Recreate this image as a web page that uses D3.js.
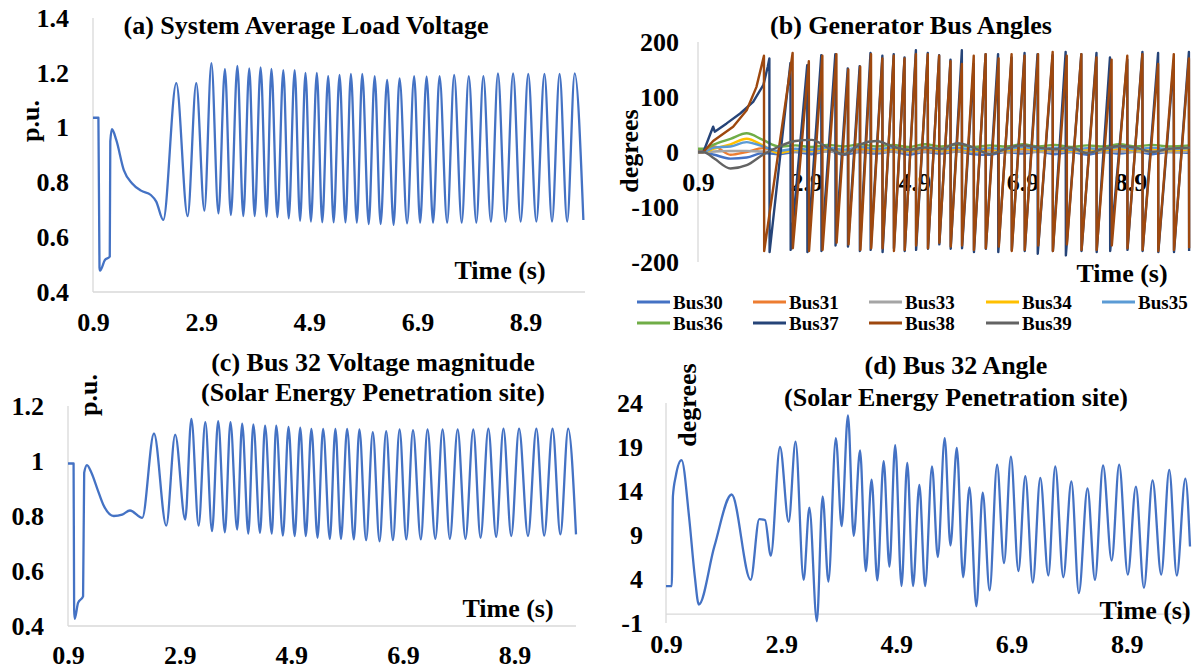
<!DOCTYPE html>
<html>
<head>
<meta charset="utf-8">
<script src="https://cdn.jsdelivr.net/npm/d3@7"></script>
<style>
  body { margin: 0; background: #fff; }
  text { font-family: "Liberation Serif", "Times New Roman", serif; font-weight: bold; fill: #000; }
</style>
</head>
<body>
<svg id="chart" width="1195" height="670"></svg>
<script>
// ---- data (time in s) ----
const timeTicks = [0.9, 2.9, 4.9, 6.9, 8.9];
const voltTicksA = [0.4, 0.6, 0.8, 1.0, 1.2, 1.4];
const angleTicksB = [-200, -100, 0, 100, 200];
const voltTicksC = [0.4, 0.6, 0.8, 1.0, 1.2];
const angleTicksD = [-1, 4, 9, 14, 19, 24];

// (a) system average load voltage, p.u.
const aTime = [0.9, 1.0, 1.02, 1.03, 1.12, 1.21, 1.22, 1.25, 1.33, 1.47, 1.62, 1.79, 1.97, 2.07, 2.20,
  2.44, 2.65, 2.81, 2.96, 3.09, 3.22, 3.34, 3.45, 3.57, 3.68, 3.79, 3.89, 4.00, 4.11, 4.20, 4.31, 4.42,
  4.52, 4.63, 4.73, 4.83, 4.93, 5.04, 5.14, 5.25, 5.35, 5.46, 5.57, 5.67, 5.78, 5.88, 6.00, 6.11, 6.22,
  6.34, 6.46, 6.57, 6.71, 6.84, 6.95, 7.07, 7.19, 7.31, 7.45, 7.58, 7.72, 7.85, 7.99, 8.12, 8.26, 8.39,
  8.53, 8.67, 8.81, 8.95, 9.10, 9.25, 9.39, 9.53, 9.67, 9.81, 9.97];
const aVolt = [1.036, 1.036, 0.49, 0.478, 0.517, 0.529, 0.95, 0.994, 0.955, 0.845, 0.797, 0.770, 0.754, 0.730, 0.663,
  1.162, 0.677, 1.162, 0.697, 1.235, 0.687, 1.213, 0.681, 1.225, 0.677, 1.216, 0.677, 1.220, 0.675, 1.214, 0.673, 1.210,
  0.669, 1.210, 0.660, 1.200, 0.657, 1.200, 0.654, 1.188, 0.654, 1.192, 0.654, 1.196, 0.653, 1.196, 0.648, 1.188, 0.648,
  1.174, 0.645, 1.180, 0.651, 1.188, 0.653, 1.186, 0.653, 1.188, 0.653, 1.192, 0.653, 1.188, 0.653, 1.188, 0.657, 1.198,
  0.657, 1.198, 0.657, 1.196, 0.657, 1.196, 0.657, 1.196, 0.657, 1.198, 0.663];

// (c) bus 32 voltage magnitude, p.u.
const cTime = [0.9, 1.0, 1.01, 1.02, 1.08, 1.17, 1.19, 1.24, 1.32, 1.43, 1.53, 1.72, 1.87, 2.01, 2.23,
  2.44, 2.66, 2.82, 3.00, 3.11, 3.24, 3.36, 3.48, 3.59, 3.71, 3.81, 3.93, 4.02, 4.13, 4.22, 4.34, 4.43,
  4.55, 4.63, 4.75, 4.85, 4.96, 5.06, 5.16, 5.26, 5.37, 5.47, 5.59, 5.69, 5.79, 5.90, 6.02, 6.12, 6.24,
  6.36, 6.48, 6.60, 6.72, 6.84, 6.96, 7.08, 7.22, 7.34, 7.48, 7.61, 7.74, 7.88, 8.02, 8.16, 8.29, 8.43,
  8.57, 8.70, 8.84, 8.98, 9.14, 9.29, 9.43, 9.58, 9.72, 9.86, 10.0];
const cVolt = [0.991, 0.991, 0.46, 0.426, 0.484, 0.508, 0.957, 0.985, 0.957, 0.896, 0.842, 0.80, 0.805, 0.82, 0.793,
  1.100, 0.765, 1.096, 0.787, 1.153, 0.765, 1.141, 0.745, 1.145, 0.741, 1.141, 0.751, 1.136, 0.736, 1.133, 0.739, 1.129,
  0.736, 1.129, 0.729, 1.124, 0.727, 1.121, 0.727, 1.117, 0.721, 1.117, 0.717, 1.117, 0.717, 1.117, 0.715, 1.115, 0.712,
  1.105, 0.708, 1.109, 0.712, 1.115, 0.715, 1.112, 0.715, 1.115, 0.717, 1.115, 0.717, 1.115, 0.717, 1.115, 0.721, 1.118,
  0.724, 1.118, 0.727, 1.118, 0.727, 1.118, 0.729, 1.118, 0.733, 1.118, 0.733];

// (d) bus 32 angle, degrees
const dTime = [0.9, 1.0, 1.02, 1.07, 1.17, 1.30, 1.40, 1.47, 1.74, 2.04, 2.37, 2.52, 2.62, 2.72, 2.88,
  3.03, 3.15, 3.29, 3.39, 3.52, 3.62, 3.72, 3.85, 3.95, 4.06, 4.16, 4.27, 4.37, 4.47, 4.57, 4.68, 4.78,
  4.88, 4.99, 5.09, 5.19, 5.30, 5.40, 5.52, 5.62, 5.74, 5.84, 5.95, 6.06, 6.17, 6.29, 6.40, 6.52, 6.65,
  6.77, 6.89, 7.02, 7.14, 7.27, 7.40, 7.54, 7.66, 7.80, 7.94, 8.07, 8.22, 8.35, 8.49, 8.64, 8.77, 8.92,
  9.06, 9.20, 9.35, 9.50, 9.64, 9.77, 9.92, 10.0];
const dAngle = [3.2, 3.2, 13.4, 15.7, 17.5, 11.1, 4.3, 1.1, 7.7, 13.6, 3.9, 10.8, 10.7, 6.65, 19.0,
  10.5, 19.6, 3.9, 12.1, -0.8, 13.4, 3.7, 20.0, 10.0, 22.6, 8.9, 18.6, 4.9, 15.3, 3.85, 17.4, 5.4,
  19.2, 3.2, 17.2, 3.2, 14.7, 3.2, 16.8, 6.5, 20.0, 7.8, 18.9, 4.2, 14.4, 0.9, 13.8, 2.7, 17.0,
  5.8, 17.9, 4.9, 15.7, 3.6, 15.5, 4.4, 16.8, 4.2, 15.1, 2.4, 14.3, 3.9, 16.9, 6.1, 17.0, 4.5,
  14.5, 3.0, 15.2, 4.5, 16.4, 4.4, 15.4, 7.7];

// (b) generator bus angles, degrees
const busNames = ['Bus30', 'Bus31', 'Bus33', 'Bus34', 'Bus35', 'Bus36', 'Bus37', 'Bus38', 'Bus39'];
const busColors = ['#4472C4', '#ED7D31', '#A5A5A5', '#FFC000', '#5B9BD5', '#70AD47', '#264478', '#9E480E', '#636363'];

const bTime = [0.9, 1.0, 1.2, 1.5, 1.8, 2.1, 2.4, 2.7, 3.0, 3.3, 3.6, 3.9, 4.2, 4.5, 4.8, 5.1,
  5.4, 5.7, 6.0, 6.3, 6.6, 6.9, 7.2, 7.5, 7.8, 8.1, 8.4, 8.7, 9.0, 9.3, 9.6, 10.0];
const bus30 = [0, 0, -5, -12, -10, -2, -4, 0, -4, 2, -5, 0, -3, 1, -5, 0, -3, 1, -4, -5, 0, -3, 1, -4, 0, -5, 0, -3, 1, -4, 0, -2];
const bus31 = [0, 0, 10, -5, 0, 7, 1, 4, 2, 5, 1, 4, 2, 5, 1, 4, 2, 5, 1, 3, 2, 5, 1, 4, 2, 3, 2, 5, 1, 4, 2, 3];
const bus33 = [0, 0, 1, 2, 2, 1, 0, 1, 0, 1, 0, 1, 0, 1, 0, 1, 0, 1, 0, 1, 0, 1, 0, 1, 0, 1, 0, 1, 0, 1, 0, 1];
const bus34 = [0, 0, 6, 14, 24, 12, -2, 4, 2, 6, 3, 7, 3, 6, 2, 7, 3, 6, 2, 5, 3, 7, 3, 6, 2, 5, 3, 7, 3, 6, 3, 5];
const bus35 = [0, 0, 8, 10, 18, 10, 2, 6, 4, 8, 4, 9, 5, 8, 4, 9, 5, 8, 4, 7, 5, 9, 5, 8, 4, 7, 5, 9, 5, 8, 5, 7];
const bus36 = [6, 6, 14, 24, 34, 22, 10, 12, 9, 13, 10, 14, 10, 13, 9, 14, 10, 13, 9, 12, 10, 14, 10, 13, 9, 12, 10, 14, 10, 13, 10, 12];
const bus39 = [0, 0, -12, -30, -24, -5, 10, 20, 22, 8, -4, 14, 20, 10, 4, 8, 6, 16, 8, -4, 6, 12, 8, 5, 8, -2, 6, 11, 8, 0, 6, 8];

// Bus37 / Bus38 slip poles: run-up, then wrap from top to bottom at each drop time
const bus37RampT = [0.9, 1.0, 1.12, 1.18, 1.21, 1.43, 1.68, 1.92, 2.11, 2.19, 2.22];
const bus37RampV = [0, 0, 31, 46, 37, 52, 70, 91, 122, 155, 170];
const bus37Drop = [2.22, 2.61, 2.92, 3.18, 3.44, 3.67, 3.89, 4.09, 4.31, 4.52, 4.72, 4.93, 5.15, 5.36, 5.57, 5.78,
  6.0, 6.22, 6.45, 6.7, 6.94, 7.18, 7.46, 7.70, 7.99, 8.27, 8.52, 8.84, 9.12, 9.41, 9.7, 9.98];
const bus37Top = [170, 162, 158, 176, 178, 152, 156, 180, 175, 178, 172, 185, 180, 176, 168, 185,
  160, 178, 178, 172, 180, 178, 176, 182, 178, 180, 172, 168, 182, 180, 165, 182];
const bus37Bottom = [-182, -178, -182, -180, -170, -172, -180, -178, -182, -175, -180, -178, -176, -168, -176, -175,
  -182, -176, -182, -178, -180, -185, -180, -188, -180, -182, -180, -178, -180, -182, -182, -180];

const bus38RampT = [0.9, 1.0, 1.18, 1.55, 1.8, 1.98, 2.12];
const bus38RampV = [0, 0, 20, 46, 76, 118, 175];
const bus38Drop = [2.12, 2.65, 2.95, 3.2, 3.46, 3.68, 3.9, 4.1, 4.31, 4.52, 4.72, 4.93, 5.15, 5.36, 5.57, 5.78,
  6.0, 6.22, 6.46, 6.7, 6.94, 7.19, 7.46, 7.72, 7.99, 8.27, 8.55, 8.84, 9.12, 9.41, 9.7, 9.98];
const bus38Top = [175, 180, 165, 175, 178, 150, 155, 178, 170, 175, 170, 178, 178, 175, 165, 160,
  175, 178, 170, 178, 175, 178, 182, 175, 178, 172, 168, 175, 178, 160, 178, 170];
const bus38Bottom = [-180, -175, -180, -178, -165, -168, -178, -175, -175, -180, -178, -170, -175, -165, -172, -170,
  -178, -175, -172, -180, -178, -170, -180, -168, -178, -178, -170, -175, -178, -180, -178, -175];

// ---- drawing ----
const T_RANGE = [0.9, 10.0];
const FONT_SIZE = 26;
const AXIS_COLOR = '#D9D9D9';
const LINE_BLUE = '#4472C4';

const svg = d3.select('#chart');

const zip = (ts, vs) => ts.map((t, i) => [t, vs[i]]);

function sawtooth(rampT, rampV, drops, tops, bottoms) {
  const pts = zip(rampT, rampV);
  drops.forEach((t, i) => {
    if (i > 0) pts.push([t, tops[i]]);
    pts.push([t + 0.004, bottoms[i]]);
  });
  return pts;
}

function drawFrame(p) {
  const x = d3.scaleLinear().domain(T_RANGE).range(p.xRange);
  const y = d3.scaleLinear().domain(p.yDomain).range(p.yRange);
  const g = svg.append('g');

  g.append('line')
    .attr('x1', p.xRange[0]).attr('x2', p.xRange[0])
    .attr('y1', p.yRange[1]).attr('y2', p.yRange[0])
    .attr('stroke', AXIS_COLOR).attr('stroke-width', 1.3);
  g.append('line')
    .attr('x1', p.xRange[0]).attr('x2', p.xRange[1])
    .attr('y1', y(p.crossAt)).attr('y2', y(p.crossAt))
    .attr('stroke', AXIS_COLOR).attr('stroke-width', 1.3);

  g.append('g')
    .attr('transform', `translate(${p.yLabelX},0)`)
    .call(d3.axisLeft(y).tickValues(p.yTicks).tickSize(0).tickPadding(0).tickFormat(d => String(+d.toFixed(1))))
    .call(a => a.select('.domain').remove())
    .attr('font-size', FONT_SIZE);

  g.append('g')
    .attr('transform', `translate(0,${p.xLabelY})`)
    .call(d3.axisBottom(x).tickValues(timeTicks).tickSize(0).tickFormat(d => d.toFixed(1)))
    .call(a => a.select('.domain').remove())
    .call(a => a.selectAll('text').attr('y', 0).attr('dy', '0.35em'))
    .attr('font-size', FONT_SIZE);

  p.title.forEach((line, i) => {
    g.append('text')
      .attr('x', p.titleX)
      .attr('y', p.titleY + i * p.titleGap)
      .attr('text-anchor', 'middle')
      .attr('dominant-baseline', 'central')
      .attr('font-size', FONT_SIZE)
      .text(line);
  });

  g.append('text')
    .attr('transform', `translate(${p.unitX},${p.unitY}) rotate(-90)`)
    .attr('text-anchor', 'middle')
    .attr('dominant-baseline', 'central')
    .attr('font-size', FONT_SIZE)
    .text(p.unit);

  g.append('text')
    .attr('x', p.timeX)
    .attr('y', p.timeY)
    .attr('text-anchor', 'middle')
    .attr('dominant-baseline', 'central')
    .attr('font-size', FONT_SIZE)
    .text('Time (s)');

  return { x, y, g };
}

function drawLine(frame, pts, color, curve, width) {
  const line = d3.line()
    .x(d => frame.x(d[0]))
    .y(d => frame.y(d[1]))
    .curve(curve);
  frame.g.append('path')
    .datum(pts)
    .attr('d', line)
    .attr('fill', 'none')
    .attr('stroke', color)
    .attr('stroke-width', width)
    .attr('stroke-linejoin', 'round');
}

// (a)
const fa = drawFrame({
  xRange: [93, 585], yDomain: [0.4, 1.4], yRange: [292, 18], yTicks: voltTicksA, crossAt: 0.4,
  yLabelX: 69, xLabelY: 322,
  title: ['(a) System Average Load Voltage'], titleX: 306, titleY: 25, titleGap: 0,
  unit: 'p.u.', unitX: 30, unitY: 121, timeX: 500, timeY: 270
});
drawLine(fa, zip(aTime, aVolt), LINE_BLUE, d3.curveMonotoneX, 2.3);

// (c)
const fc = drawFrame({
  xRange: [68, 576], yDomain: [0.4, 1.2], yRange: [626, 406], yTicks: voltTicksC, crossAt: 0.4,
  yLabelX: 44, xLabelY: 655,
  title: ['(c) Bus 32 Voltage magnitude', '(Solar Energy Penetration site)'], titleX: 373, titleY: 362, titleGap: 30,
  unit: 'p.u.', unitX: 88, unitY: 395, timeX: 508, timeY: 608
});
drawLine(fc, zip(cTime, cVolt), LINE_BLUE, d3.curveMonotoneX, 2.3);

// (d)
const fd = drawFrame({
  xRange: [666, 1190], yDomain: [-1, 24], yRange: [623, 403], yTicks: angleTicksD, crossAt: 0,
  yLabelX: 643, xLabelY: 644,
  title: ['(d) Bus 32 Angle', '(Solar Energy Penetration site)'], titleX: 956, titleY: 365, titleGap: 32,
  unit: 'degrees', unitX: 687, unitY: 405, timeX: 1145, timeY: 610
});
drawLine(fd, zip(dTime, dAngle), LINE_BLUE, d3.curveMonotoneX, 2.3);

// (b)
const fb = drawFrame({
  xRange: [698, 1190], yDomain: [-200, 200], yRange: [262, 42], yTicks: angleTicksB, crossAt: 0,
  yLabelX: 679, xLabelY: 182,
  title: ['(b) Generator Bus Angles'], titleX: 911, titleY: 25, titleGap: 0,
  unit: 'degrees', unitX: 629, unitY: 151, timeX: 1122, timeY: 273
});

const busSeries = [
  zip(bTime, bus30),
  zip(bTime, bus31),
  zip(bTime, bus33),
  zip(bTime, bus34),
  zip(bTime, bus35),
  zip(bTime, bus36),
  sawtooth(bus37RampT, bus37RampV, bus37Drop, bus37Top, bus37Bottom),
  sawtooth(bus38RampT, bus38RampV, bus38Drop, bus38Top, bus38Bottom),
  zip(bTime, bus39)
];
busSeries.forEach((pts, i) => {
  const saw = i === 6 || i === 7;
  drawLine(fb, pts, busColors[i], saw ? d3.curveLinear : d3.curveMonotoneX, 2.4);
});

// legend for (b)
const legendCols = [637, 753, 869, 986, 1102];
const legendRows = [302, 323];
const legend = svg.append('g');
busNames.forEach((name, i) => {
  const lx = legendCols[i % 5];
  const ly = legendRows[Math.floor(i / 5)];
  legend.append('line')
    .attr('x1', lx).attr('x2', lx + 33)
    .attr('y1', ly).attr('y2', ly)
    .attr('stroke', busColors[i]).attr('stroke-width', 3);
  legend.append('text')
    .attr('x', lx + 36)
    .attr('y', ly)
    .attr('dominant-baseline', 'central')
    .attr('font-size', 19)
    .text(name);
});
</script>
</body>
</html>
